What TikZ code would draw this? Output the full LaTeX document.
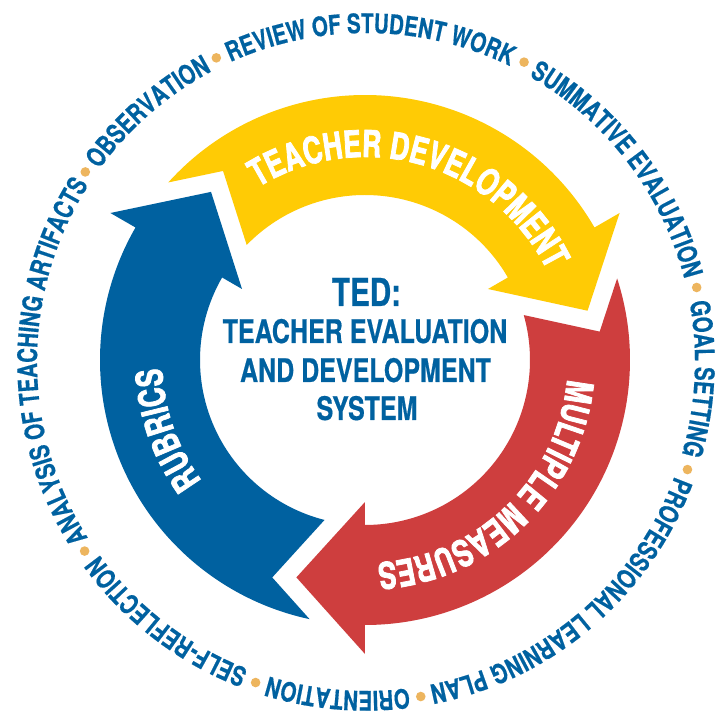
\documentclass[tikz,border=0pt]{standalone}
\usepackage{fontspec}
\usetikzlibrary{decorations.text}
\newfontfamily\tedfont{TeX Gyre Heros}[FakeStretch=0.77,FakeBold=0.5]
\newfontfamily\tedouter{TeX Gyre Heros}[FakeStretch=0.76,FakeBold=0.5]
\newfontfamily\tedheavy{TeX Gyre Heros}[FakeStretch=0.72,FakeBold=2]
\definecolor{tedblue}{RGB}{0,97,160}
\definecolor{tedyellow}{RGB}{255,203,5}
\definecolor{tedred}{RGB}{206,62,62}
\definecolor{teddot}{RGB}{237,181,94}
\newcommand\outerfmt{\tedouter\bfseries\fontsize{27}{30}\selectfont}
\newcommand\arrowfmt{\tedheavy\bfseries\fontsize{37}{40}\selectfont}
\newcommand\centerfmt{\tedfont\bfseries\fontsize{32.5}{38}\selectfont}
\newcommand\tedbig{\tedfont\bfseries\fontsize{38.5}{40}\selectfont}
\newcommand\ringseg[2]{\path[ringtext={#2}] ({#1+45}:329pt) arc[start angle={#1+45},end angle={#1-45},radius=329pt];}
\begin{document}
\begin{tikzpicture}[x=1pt,y=1pt,
  ringtext/.style={decorate,decoration={text along path,text align=center,text color=tedblue,text={|\outerfmt|#1}}},
  arrowtext/.style={decorate,decoration={text along path,text align=center,text color=white,text={|\arrowfmt|#1}}},
  arrowshape/.style={fill=#1,draw=none},
  ringdot/.style={fill=teddot,draw=none},
  centertext/.style={text=tedblue,inner sep=0pt,anchor=base}]
\fill[white] (-365,-352) rectangle (361,360);
\useasboundingbox (-365,-352) rectangle (361,360);
% arrows
\begin{scope}[rotate=30]
\fill[arrowshape=tedyellow] (107.93:265pt) arc[start angle=107.93,end angle=0,radius=265pt] -- (0:294pt) -- (217.4,-68.6) -- (0:142pt) -- (0:165pt) arc[start angle=0,end angle=105.8,radius=165pt] -- (96.9:236.4pt) -- cycle;
\end{scope}
\begin{scope}[rotate=-90]
\fill[arrowshape=tedred] (107.93:265pt) arc[start angle=107.93,end angle=0,radius=265pt] -- (0:294pt) -- (217.4,-68.6) -- (0:142pt) -- (0:165pt) arc[start angle=0,end angle=105.8,radius=165pt] -- (96.9:236.4pt) -- cycle;
\end{scope}
\begin{scope}[rotate=150]
\fill[arrowshape=tedblue] (107.93:265pt) arc[start angle=107.93,end angle=0,radius=265pt] -- (0:294pt) -- (217.4,-68.6) -- (0:142pt) -- (0:165pt) arc[start angle=0,end angle=105.8,radius=165pt] -- (96.9:236.4pt) -- cycle;
\end{scope}
% arrow labels
\path[arrowtext={TEACHER DEVELOPMENT}] (134:203pt) arc[start angle=134,end angle=14,radius=203pt];
\path[arrowtext={MU{L\kern-4pt}TIPLE MEASURES}] (14:203pt) arc[start angle=14,end angle=-106,radius=203pt];
\path[arrowtext={RUBRICS}] (259.4:203pt) arc[start angle=259.4,end angle=139.4,radius=203pt];
% center text
\node[centertext,font=\tedbig] (ted) at (1.5,54) {TED:};
\node[centertext,font=\centerfmt] (line1) at (0,17) {TEACHER EVALUATION};
\node[centertext,font=\centerfmt] (line2) at (0.5,-22) {AND DEVELOPMENT};
\node[centertext,font=\centerfmt] (line3) at (2,-60) {SYSTEM};
% outer ring
\begin{scope}[shift={(1,-2)}]
\ringseg{179.9}{ANALYSIS OF TEACHING ARTIFACTS}
\ringseg{131.05}{OBSERVATION}
\ringseg{89.2}{REVIEW OF STUDENT WORK}
\ringseg{37.45}{SUMMATIVE EVALUATION}
\ringseg{-2.9}{GOAL SETTING}
\ringseg{-49.6}{PROFESSIONAL LEARNING PLAN}
\ringseg{-94.85}{ORIENTATION}
\ringseg{-127.55}{SELF-REFLECTION}
\foreach \a in {145.9,116.2,62.2,12.7,-18.5,-80.7,-109,-146.1}
  \fill[ringdot] (\a:339pt) circle[radius=4.8pt];
\end{scope}
\end{tikzpicture}
\end{document}
